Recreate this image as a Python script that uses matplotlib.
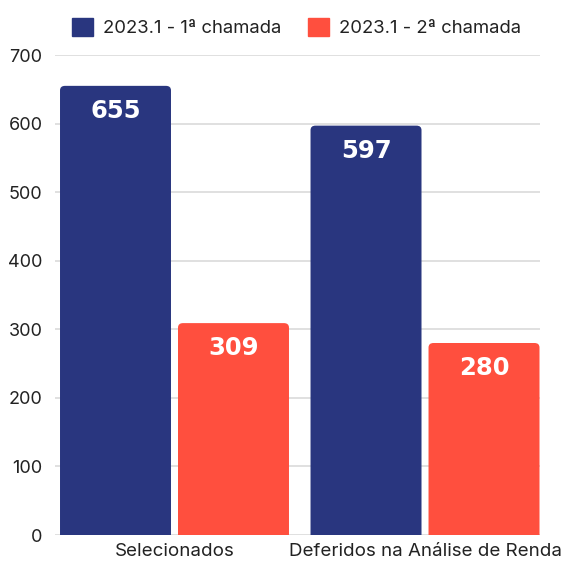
import numpy as np
import matplotlib.pyplot as plt
from matplotlib.patches import FancyBboxPatch

categorias = ["Selecionados", "Deferidos na Análise de Renda"]
primeira = [655, 597]
segunda = [309, 280]
series = ["2023.1 - 1ª chamada", "2023.1 - 2ª chamada"]
cores = ["#29367F", "#FF4F3E"]

plt.rcParams['font.family'] = ['Inter', 'DejaVu Sans']
plt.rcParams['text.color'] = '#222222'

fig = plt.figure(figsize=(5.62, 5.61), dpi=100)
ax = fig.add_axes([55/562, 26/561, 485/562, 480/561])

x = np.arange(len(categorias))
w = 0.443
off = 0.2355

# bars with rounded tops
for vals, dx, cor, nome in [(primeira, -off, cores[0], series[0]), (segunda, off, cores[1], series[1])]:
    bars = ax.bar(x + dx, vals, w, color=cor, label=nome)
    for b, v in zip(bars, vals):
        b.set_visible(False)
        p = FancyBboxPatch((b.get_x(), -20), b.get_width(), v + 20,
                           boxstyle="round,pad=0,rounding_size=0.02",
                           mutation_aspect=330, facecolor=cor, edgecolor='none', zorder=3)
        ax.add_patch(p)
        ax.annotate(str(v), (b.get_x() + b.get_width()/2, v), xytext=(0, -18),
                    textcoords='offset points', ha='center', va='center',
                    color='white', fontsize=17.5, fontweight='bold',
                    family=['DejaVu Sans'], zorder=4)

ax.set_xlim(-0.477, 1.459)
ax.set_ylim(0, 700)
ax.set_yticks(range(0, 701, 100))
ax.set_xticks(x)
ax.set_xticklabels(categorias, fontsize=13.5)
ax.tick_params(axis='y', length=0, pad=9, labelsize=13, labelcolor='#222222')
ax.tick_params(axis='x', length=0, pad=6, labelcolor='#222222')
ax.grid(axis='y', color='#dddddd', linewidth=1.3)
ax.set_axisbelow(True)
for s in ax.spines.values():
    s.set_visible(False)

handles = [plt.Rectangle((0, 0), 1, 1, color=c) for c in cores]
fig.legend(handles, series, loc='center', bbox_to_anchor=(296.5/562, 1 - 27.5/561),
           ncol=2, frameon=False, fontsize=13.3, handlelength=1.14, handleheight=1.14,
           handletextpad=0.54, columnspacing=1.46, borderpad=0)

fig.savefig("out.png", dpi=100)
